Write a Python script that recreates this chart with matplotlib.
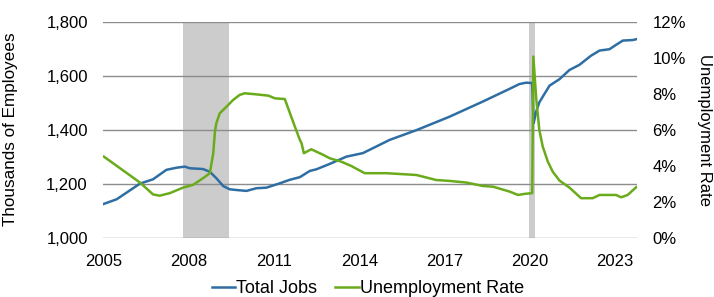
import matplotlib
matplotlib.use("Agg")
import matplotlib.pyplot as plt
from matplotlib.ticker import FuncFormatter

plt.rcParams['font.family'] = ['Liberation Sans', 'DejaVu Sans']

# total jobs (thousands), x in decimal years
jobs_x = [2005.0, 2005.45, 2006.03, 2006.27, 2006.73, 2007.2, 2007.56, 2007.85, 2008.02,
          2008.49, 2008.73, 2008.96, 2009.2, 2009.43, 2009.7, 2010.02, 2010.37, 2010.72,
          2011.19, 2011.54, 2011.9, 2012.25, 2012.48, 2012.95, 2013.54, 2014.12, 2015.06,
          2016.0, 2017.17, 2018.34, 2019.28, 2019.63, 2019.87, 2020.04, 2020.08, 2020.13,
          2020.22, 2020.33, 2020.45, 2020.69, 2021.04, 2021.39, 2021.74, 2022.15, 2022.45,
          2022.8, 2023.03, 2023.27, 2023.62, 2023.74]
jobs = [1125, 1142, 1183, 1200, 1216, 1251, 1259, 1263, 1257,
        1254, 1244, 1220, 1191, 1179, 1176, 1173, 1183, 1185,
        1201, 1214, 1224, 1247, 1253, 1273, 1300, 1313, 1362,
        1398, 1448, 1504, 1551, 1569, 1574, 1573, 1571, 1424,
        1467, 1501, 1522, 1563, 1587, 1621, 1640, 1674, 1693,
        1698, 1714, 1730, 1732, 1735]

# unemployment rate (%)
unemp_x = [2005.0, 2006.27, 2006.73, 2006.96, 2007.32, 2007.79, 2008.14, 2008.49, 2008.73,
           2008.85, 2008.91, 2008.96, 2009.08, 2009.32, 2009.55, 2009.78, 2009.96, 2010.31,
           2010.79, 2011.02, 2011.37, 2011.66, 2011.9, 2011.96, 2012.04, 2012.3, 2012.72,
           2012.95, 2013.36, 2013.71, 2014.18, 2014.94, 2016.0, 2016.7, 2017.17, 2017.76,
           2018.34, 2018.7, 2019.28, 2019.58, 2019.81, 2020.08, 2020.12, 2020.22, 2020.33,
           2020.45, 2020.63, 2020.8, 2021.04, 2021.39, 2021.8, 2022.21, 2022.45, 2023.03,
           2023.21, 2023.44, 2023.74]
unemp = [4.5, 3.06, 2.4, 2.33, 2.47, 2.78, 2.93, 3.3, 3.58,
         4.69, 5.89, 6.36, 6.91, 7.28, 7.65, 7.93, 8.02, 7.97,
         7.89, 7.74, 7.7, 6.44, 5.43, 5.24, 4.69, 4.91, 4.6,
         4.41, 4.22, 3.98, 3.58, 3.58, 3.48, 3.2, 3.15, 3.06,
         2.87, 2.83, 2.56, 2.37, 2.43, 2.47, 10.06, 7.74, 5.98,
         5.06, 4.22, 3.67, 3.17, 2.78, 2.19, 2.19, 2.37, 2.37,
         2.24, 2.37, 2.8]

rec_start = [2007.77, 2019.95]
rec_end = [2009.41, 2020.19]

year_ticks = [2005, 2008, 2011, 2014, 2017, 2020, 2023]

blue = '#2e6ea3'
green = '#6aab1c'

fig = plt.figure(figsize=(7.14, 2.97), dpi=100)
ax = fig.add_axes([0.1443, 0.2, 0.7479, 0.727])
ax2 = ax.twinx()

for s, e in zip(rec_start, rec_end):
    ax.axvspan(s, e, color='#cccccc', lw=0, zorder=0)

ax.set_ylim(1000, 1800)
ax.set_yticks([1000, 1200, 1400, 1600, 1800])
ax.yaxis.set_major_formatter(FuncFormatter(lambda v, p: f"{int(v):,}"))
ax.grid(axis='y', color='#8c8c8c', lw=1, zorder=1)
ax.set_axisbelow(False)
ax.set_xlim(2004.97, 2023.77)
ax.set_xticks(year_ticks)
ax.set_xticklabels([str(y) for y in year_ticks])

l1, = ax.plot(jobs_x, jobs, color=blue, lw=1.8, zorder=3, label='Total Jobs')
l2, = ax2.plot(unemp_x, unemp, color=green, lw=1.8, zorder=3, label='Unemployment Rate')

ax2.set_ylim(0, 12)
ax2.set_yticks(range(0, 13, 2))
ax2.yaxis.set_major_formatter(FuncFormatter(lambda v, p: f"{int(v)}%"))

for a in (ax, ax2):
    for sp in a.spines.values():
        sp.set_visible(False)
    a.tick_params(length=0, labelsize=12, colors='black')
ax.tick_params(axis='y', pad=11)
ax.tick_params(axis='x', pad=12)
ax2.tick_params(axis='y', pad=11)

ax.set_ylabel('Thousands of Employees', fontsize=12.3)
ax.yaxis.set_label_coords(-0.159, 0.5)
ax2.set_ylabel('Unemployment Rate', fontsize=12, rotation=270, va='center')
ax2.yaxis.set_label_coords(1.127, 0.5)

fig.legend(handles=[l1, l2], loc='center', bbox_to_anchor=(0.515, 0.028), ncol=2,
           frameon=False, fontsize=13, handlelength=1.3, handletextpad=0.05,
           columnspacing=1.0)

fig.savefig('out.png', dpi=100)
